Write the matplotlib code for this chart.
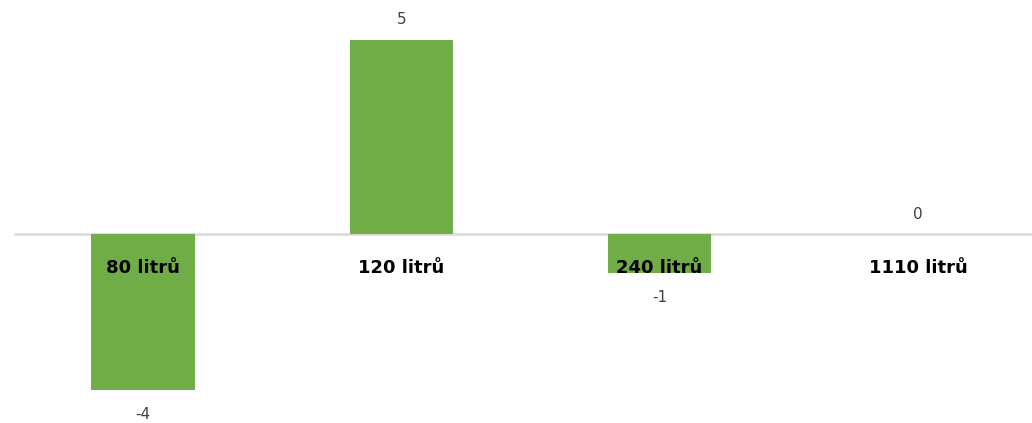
import matplotlib.pyplot as plt

# Data
categories = ["80 litrů", "120 litrů", "240 litrů", "1110 litrů"]
values = [-4, 5, -1, 0]

fig = plt.figure(figsize=(10.32, 4.23), dpi=100)
ax = fig.add_axes([0, 0, 1, 1])

x = range(len(categories))
ax.bar(x, values, width=0.4, color="#70AD47", zorder=2)
ax.hlines(0, -0.5, len(categories), color="#D9D9D9", linewidth=1.8, zorder=1)

ax.set_xlim(-0.5536, 3.4418)
ax.set_ylim(-4.85, 6.02)
ax.axis("off")

# Value labels
for i, v in enumerate(values):
    if v >= 0:
        ax.annotate(str(v), (i, v), xytext=(0, 9), textcoords="offset points",
                    ha="center", va="bottom", fontsize=11, color="#404040")
    else:
        ax.annotate(str(v), (i, v), xytext=(0, -12), textcoords="offset points",
                    ha="center", va="top", fontsize=11, color="#404040")

# Category labels just under the axis line
for i, c in enumerate(categories):
    ax.annotate(c, (i, 0), xytext=(0, -24), textcoords="offset points",
                ha="center", va="center", fontsize=13, fontweight="bold",
                color="#000000")

fig.savefig("out.png", dpi=100)
